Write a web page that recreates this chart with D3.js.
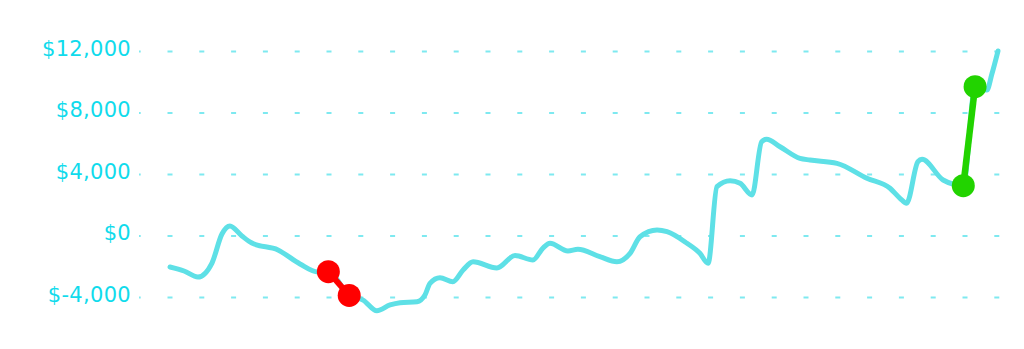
<!DOCTYPE html>
<html>
<head>
<meta charset="utf-8">
<script src="https://cdn.jsdelivr.net/npm/d3@7"></script>
<style>
  html, body { margin: 0; padding: 0; background: #fff; }
  svg { display: block; }
  .tick text { font-family: "DejaVu Sans", sans-serif; font-size: 21px; letter-spacing: 0.3px; fill: #10dbec; }
</style>
</head>
<body>
<div id="chart"></div>
<script>
// day of year and running balance (USD)
const days = [0, 6.2, 12.3, 18.5, 22.9, 26.4, 31.7, 36.1, 47.6, 57.3, 65.2, 69.8, 79.0, 85.1, 91.2, 97.0,
  101.4, 108.9, 112.4, 114.6, 119.0, 124.7, 129.2, 133.6, 144.1, 152.1, 160.0, 164.4, 167.5, 175.4,
  179.8, 189.5, 197.0, 202.8, 207.2, 214.7, 219.1, 227.9, 233.6, 237.2, 241.1, 246.9, 251.3, 256.6,
  260.8, 263.0, 268.9, 277.7, 282.1, 294.0, 307.2, 317.4, 321.8, 324.7, 329.7, 331.5, 340.8, 345.1,
  349.7, 354.9, 360.1, 362.3, 365];
const balance = [-2050, -2310, -2700, -1790, 100, 620, -30, -490, -940, -1850, -2370, -2350, -3900, -4200, -4900, -4520,
  -4370, -4305, -3870, -3110, -2745, -3005, -2245, -1705, -2110, -1300, -1595, -815, -505, -1010,
  -900, -1380, -1705, -1160, -80, 360, 250, -505, -1160, -1810, 3175, 3565, 3395, 2635,
  6100, 6255, 5775, 5020, 4910, 4695, 3720, 3070, 2420, 2095, 4800, 4955, 3610, 3350,
  3240, 9680, 9460, 10500, 12000];

// highlighted moves (indices into the series)
const dropIdx = [11, 12];
const jumpIdx = [58, 59];

const tickValues = [-4000, 0, 4000, 8000, 12000];

const width = 1024, height = 349;

const svg = d3.select("#chart").append("svg")
  .attr("width", width)
  .attr("height", height);

const x = d3.scaleLinear().domain([0, 365]).range([170, 998]);
const y = d3.scaleLinear().domain([-4000, 12000]).range([297, 51]);

const points = days.map((d, i) => ({ day: d, value: balance[i] }));

// plain hyphen for negatives, like the original
const money = d3.formatLocale({ decimal: ".", thousands: ",", grouping: [3], currency: ["$", ""], minus: "-" }).format(",");

// y axis with dashed grid
const axis = svg.append("g")
  .attr("transform", "translate(139,0)")
  .call(d3.axisLeft(y)
    .tickValues(tickValues)
    .tickSize(-861)
    .tickPadding(8)
    .tickFormat(v => "$" + money(v)));

axis.select(".domain").remove();
axis.selectAll(".tick line")
  .attr("stroke", "#7ee9f0")
  .attr("stroke-width", 2)
  .attr("stroke-dasharray", "5,26.8")
  .attr("stroke-dashoffset", 3.3);
axis.selectAll(".tick text").attr("dy", "0.2em");

const line = d3.line()
  .x(d => x(d.day))
  .y(d => y(d.value))
  .curve(d3.curveMonotoneX);

svg.append("path")
  .datum(points)
  .attr("fill", "none")
  .attr("stroke", "#5ee0e6")
  .attr("stroke-width", 5)
  .attr("stroke-linejoin", "round")
  .attr("stroke-linecap", "round")
  .attr("d", line);

function highlight(idx, color, w, r) {
  const pts = idx.map(i => points[i]);
  const g = svg.append("g");
  g.append("line")
    .attr("x1", x(pts[0].day)).attr("y1", y(pts[0].value))
    .attr("x2", x(pts[1].day)).attr("y2", y(pts[1].value))
    .attr("stroke", color)
    .attr("stroke-width", w);
  g.selectAll("circle")
    .data(pts)
    .join("circle")
    .attr("cx", d => x(d.day))
    .attr("cy", d => y(d.value))
    .attr("r", r)
    .attr("fill", color);
}

highlight(dropIdx, "#ff0000", 6, 11.5);
highlight(jumpIdx, "#22d300", 6.5, 11.5);
</script>
</body>
</html>
